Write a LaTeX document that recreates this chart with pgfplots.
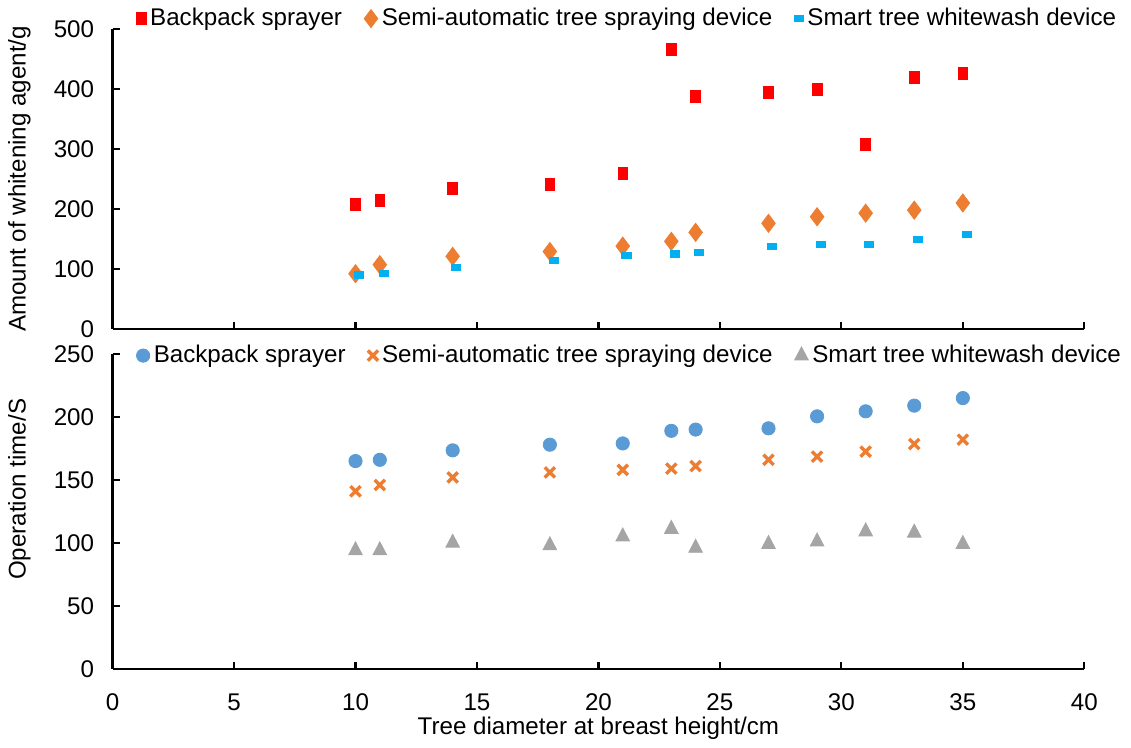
\documentclass[border=0pt]{standalone}
\usepackage{pgfplots}
\pgfplotsset{compat=1.18}
\usepackage{fontspec}
\setmainfont{Liberation Sans}

\definecolor{cRed}{HTML}{FF0000}
\definecolor{cOrange}{HTML}{ED7D31}
\definecolor{cCyan}{HTML}{00B0F0}
\definecolor{cBlue}{HTML}{5B9BD5}
\definecolor{cGray}{HTML}{A5A5A5}

\pgfplotsset{
  panel/.style={
    scale only axis,
    width=483pt,
    xmin=0, xmax=40,
    xtick={0,5,...,40},
    axis lines*=left,
    axis line style={line width=1.1pt, -},
    tick style={line width=1.1pt, black},
    tick align=inside,
    major tick length=3.5pt,
    /pgf/number format/assume math mode=true,
    yticklabel style={xshift=-5pt},
    xticklabel style={yshift=-8pt},
    legend columns=3,
    legend image code/.code={\draw[mark repeat=2,mark phase=2,#1] plot coordinates {(0pt,0pt) (3pt,0pt) (6pt,0pt)};},
    legend style={draw=none, fill=none, anchor=west,
      /tikz/every even column/.append style={column sep=9pt}},
  },
}

\begin{document}
\fontsize{12}{14.4}\selectfont
\begin{tikzpicture}
% upper panel: amount of agent
\begin{axis}[panel,
  at={(0,0)}, anchor=south west,
  height=149pt,
  ymin=0, ymax=500, ytick={0,100,...,500},
  xticklabels={},
  ylabel={Amount of whitening agent/g},
  ylabel style={at={(axis description cs:-0.096,0.5)}, anchor=center},
  legend style={at={(axis description cs:0.018,1.035)}},
]
\addplot[only marks, mark=square*, mark size=2.4pt, color=cRed, mark options={yscale=1.25}] coordinates {
  (10,207) (11,215) (14,235) (18,241) (21,260) (23,466)
  (24,387) (27,394) (29,400) (31,307) (33,420) (35,426)
};
\addlegendentry{Backpack sprayer}
\addplot[only marks, mark=diamond*, mark size=4.5pt, color=cOrange] coordinates {
  (10,92) (11,107) (14,121) (18,129) (21,138) (23,146)
  (24,161) (27,176) (29,187) (31,193) (33,198) (35,210)
};
\addlegendentry{Semi-automatic tree spraying device}
\addplot[only marks, mark=square*, mark size=1.5pt, color=cCyan, mark options={xscale=1.5}] coordinates {
  (10.15,90) (11.15,92) (14.15,103) (18.15,114) (21.15,122) (23.15,125)
  (24.15,127) (27.15,137) (29.15,141) (31.15,141) (33.15,150) (35.15,158)
};
\addlegendentry{Smart tree whitewash device}
\end{axis}

% lower panel: operation time
\begin{axis}[panel,
  at={(0,-12.5pt)}, anchor=north west,
  height=156.5pt,
  ymin=0, ymax=250, ytick={0,50,...,250},
  xlabel={Tree diameter at breast height/cm},
  xlabel style={at={(axis description cs:0.5,0)}, anchor=center, yshift=-29.5pt},
  ylabel={Operation time/S},
  ylabel style={at={(axis description cs:-0.096,0.57)}, anchor=center},
  legend style={at={(axis description cs:0.018,0.995)}},
]
\addplot[only marks, mark=*, mark size=3.3pt, color=cBlue] coordinates {
  (10,165) (11,166) (14,173.5) (18,178) (21,179) (23,189)
  (24,190) (27,191) (29,200.5) (31,204.5) (33,209) (35,215)
};
\addlegendentry{Backpack sprayer}
\addplot[only marks, mark=x, mark size=3.6pt, color=cOrange, mark options={line width=1.7pt}] coordinates {
  (10,141) (11,146) (14,152) (18,156) (21,158) (23,159)
  (24,161) (27,166) (29,168.5) (31,172.5) (33,178.5) (35,182)
};
\addlegendentry{Semi-automatic tree spraying device}
\addplot[only marks, mark=triangle*, mark size=3.9pt, color=cGray, mark options={yscale=1.1}] coordinates {
  (10,94) (11,94) (14,100) (18,98) (21,105) (23,111)
  (24,96) (27,99) (29,101) (31,109) (33,108) (35,99)
};
\addlegendentry{Smart tree whitewash device}
\end{axis}
\end{tikzpicture}
\end{document}
